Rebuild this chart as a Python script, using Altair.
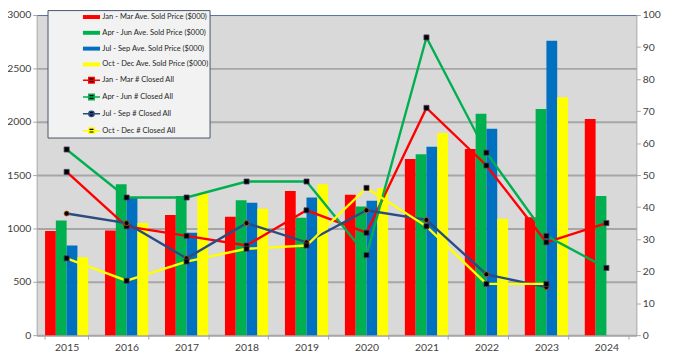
import altair as alt
import pandas as pd

years = ["2015", "2016", "2017", "2018", "2019", "2020", "2021", "2022", "2023", "2024"]

bar_series = [
    "Jan - Mar Ave. Sold Price ($000)",
    "Apr - Jun Ave. Sold Price ($000)",
    "Jul - Sep Ave. Sold Price ($000)",
    "Oct - Dec Ave. Sold Price ($000)",
]
line_series = [
    "Jan - Mar # Closed All",
    "Apr - Jun # Closed All",
    "Jul - Sep # Closed All",
    "Oct - Dec # Closed All",
]

jan_mar_price = [975, 980, 1125, 1110, 1350, 1315, 1650, 1745, 1105, 2025]
apr_jun_price = [1075, 1415, 1305, 1265, 1100, 1205, 1695, 2075, 2120, 1305]
jul_sep_price = [840, 1290, 960, 1240, 1290, 1260, 1765, 1935, 2760, None]
oct_dec_price = [730, 1050, 1335, 1185, 1415, 1380, 1895, 1090, 2230, None]

jan_mar_closed = [51, 34, 31, 28, 39, 32, 71, 53, 29, 35]
apr_jun_closed = [58, 43, 43, 48, 48, 25, 93, 57, 31, 21]
jul_sep_closed = [38, 35, 24, 35, 29, 39, 36, 19, 15, None]
oct_dec_closed = [24, 17, 23, 27, 28, 46, 34, 16, 16, None]

bar_colors = ["#FF0000", "#00B050", "#0070C0", "#FFFF00"]
line_colors = ["#FF0000", "#00B050", "#2B4C80", "#FFFF00"]

all_series = bar_series + line_series

bar_rows = []
for name, vals in zip(bar_series, [jan_mar_price, apr_jun_price, jul_sep_price, oct_dec_price]):
    for y, v in zip(years, vals):
        if v is not None:
            bar_rows.append({"year": y, "series": name, "price": v})
bars_df = pd.DataFrame(bar_rows)

line_rows = []
for name, vals in zip(line_series, [jan_mar_closed, apr_jun_closed, jul_sep_closed, oct_dec_closed]):
    for y, v in zip(years, vals):
        if v is not None:
            line_rows.append({"year": y, "series": name, "closed": v})
lines_df = pd.DataFrame(line_rows)

FONT = "Lato"
AX = "#404040"
GRID = "#A6A6A6"

is_bar = " || ".join("datum.value == '%s'" % s for s in bar_series)
sym_expr = (
    "(" + is_bar + ") ? 'M-1.73,-0.4H1.73V0.4H-1.73Z' : "
    "(datum.value == 'Jul - Sep # Closed All' ? "
    "'M-1.73,0H1.73M0.55,0A0.55,0.55,0,1,1,-0.55,0A0.55,0.55,0,1,1,0.55,0Z' : "
    "'M-1.73,0H1.73M-0.55,-0.55H0.55V0.55H-0.55Z')"
)

legend = alt.Legend(
    orient="none",
    legendX=11,
    legendY=-5,
    fillColor="#F2F2F2",
    strokeColor="#44546A",
    padding=1,
    rowPadding=5.0,
    symbolType={"expr": sym_expr},
    symbolSize=100,
    symbolStrokeWidth=1.5,
    symbolOffset=37.5,
    labelOffset=5,
    labelFont=FONT,
    labelFontSize=7.6,
    labelColor="#262626",
    labelExpr="pad(datum.label, 57, '\u00a0')",
    labelLimit=400,
)

x_enc = alt.X(
    "year:N",
    scale=alt.Scale(domain=years, paddingInner=0.28, paddingOuter=0.14),
    axis=alt.Axis(title=None, labelAngle=0, tickBand="extent", labelPadding=4),
)

bars = alt.Chart(bars_df).mark_bar().encode(
    x=x_enc,
    xOffset=alt.XOffset(
        "series:N", scale=alt.Scale(domain=bar_series, paddingInner=0, paddingOuter=0)
    ),
    y=alt.Y(
        "price:Q",
        scale=alt.Scale(domain=[0, 3000], nice=False),
        axis=alt.Axis(
            title=None,
            format="d",
            values=list(range(0, 3001, 500)),
            grid=True,
            gridColor={"condition": {"test": "datum.value == 3000", "value": "#4F6EA8"}, "value": GRID},
            gridWidth={"condition": {"test": "datum.value == 3000", "value": 1}, "value": 2},
        ),
    ),
    fill=alt.Fill(
        "series:N",
        title=None,
        scale=alt.Scale(domain=all_series, range=bar_colors + ["#000000"] * 4),
        legend=legend,
    ),
)

y_right = alt.Y(
    "closed:Q",
    scale=alt.Scale(domain=[0, 100], nice=False),
    axis=alt.Axis(orient="right", title=None, format="d", values=list(range(0, 101, 10)), grid=False),
)

lines = alt.Chart(lines_df).mark_line(strokeWidth=2.4).encode(
    x=x_enc,
    y=y_right,
    stroke=alt.Stroke(
        "series:N",
        title=None,
        scale=alt.Scale(domain=all_series, range=["transparent"] * 4 + line_colors),
        legend=legend,
    ),
)

markers = alt.Chart(lines_df).mark_point(filled=True, size=26, opacity=1).encode(
    x=x_enc,
    y=y_right,
    shape=alt.condition("datum.series == 'Jul - Sep # Closed All'", alt.value("circle"), alt.value("square")),
    fill=alt.value("#000000"),
    stroke=alt.condition("datum.series == 'Jul - Sep # Closed All'", alt.value("#C55A11"), alt.value("#4A4060")),
    strokeWidth=alt.value(0.8),
)

chart = (
    alt.layer(bars, alt.layer(lines, markers))
    .resolve_scale(y="independent")
    .properties(
        width=607,
        height=324,
        autosize=alt.AutoSizeParams(type="none"),
        padding={"left": 29, "top": 5, "right": 31, "bottom": 21},
        background="#FFFFFF",
    )
    .configure_view(fill="#D9D9D9", stroke="transparent")
    .configure_axis(
        labelFont=FONT,
        labelFontSize=10.5,
        labelColor=AX,
        tickColor=GRID,
        domainColor=GRID,
        tickSize=4,
        labelPadding=2,
    )
)

chart.save("out.html", embed_options={"renderer": "svg", "actions": False})
